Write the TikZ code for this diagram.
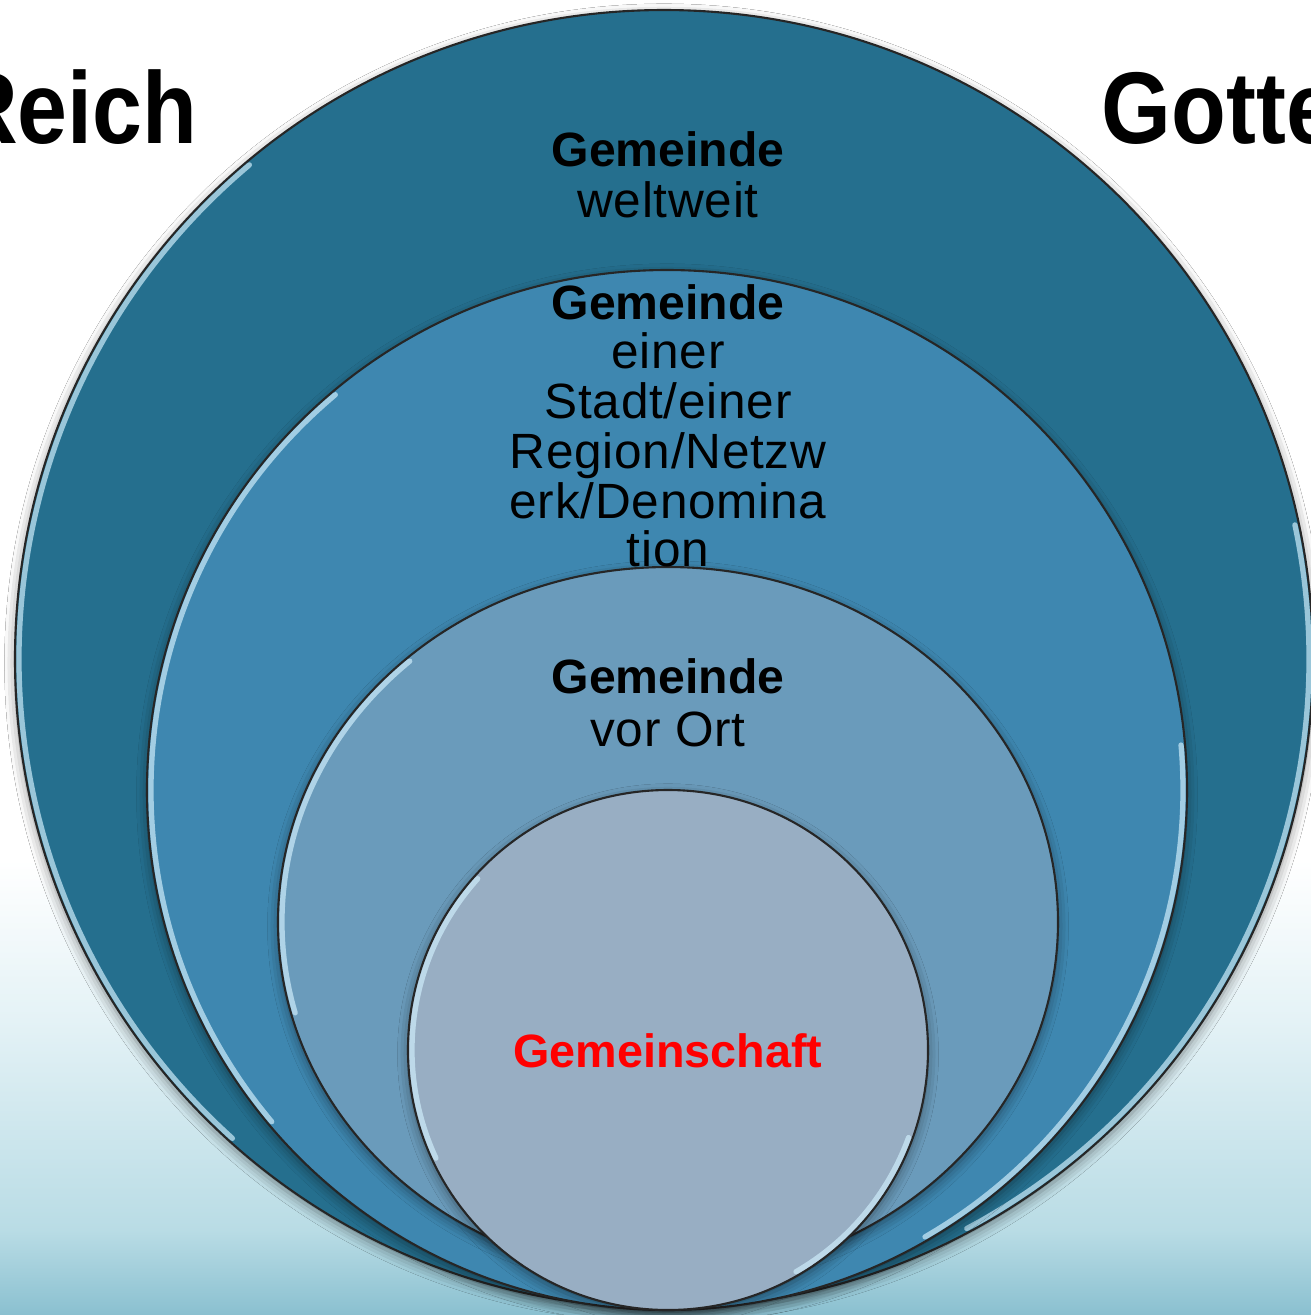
\documentclass[tikz,border=0pt]{standalone}
\usepackage{fontspec}
\setmainfont{Liberation Sans}
\newfontfamily\regfont[LetterSpace=1.5]{Liberation Sans}
\newfontfamily\bigfont[FakeStretch=0.88]{Liberation Sans}
\usetikzlibrary{shapes.geometric,shadows.blur}
\definecolor{bgmid}{RGB}{228,242,246}
\definecolor{bglow}{RGB}{185,220,229}
\definecolor{bgbot}{RGB}{138,192,208}
\definecolor{cA}{RGB}{37,111,142}
\definecolor{cB}{RGB}{62,135,176}
\definecolor{cC}{RGB}{106,155,187}
\definecolor{cD}{RGB}{152,174,195}
\definecolor{hl}{RGB}{205,236,250}
\tikzset{
  disc/.style={circle, inner sep=0pt, outer sep=0pt, draw=black!85, line width=0.6pt,
    blur shadow={shadow xshift=0pt, shadow yshift=-1.2pt, shadow blur radius=3pt, shadow opacity=45}},
  hlline/.style={draw=hl, line width=1.5pt, opacity=0.7, line cap=round},
  boldtxt/.style={inner sep=0pt, anchor=base, font=\fontsize{13.7}{14}\selectfont\bfseries},
  regtxt/.style={inner sep=0pt, anchor=base, font=\regfont\fontsize{14.1}{14}\selectfont},
  bigtxt/.style={inner sep=0pt, font=\bigfont\fontsize{29}{30}\selectfont\bfseries}
}
\begin{document}
\begin{tikzpicture}
\useasboundingbox (0,0) rectangle (13.11,-13.15);
\clip (0,0) rectangle (13.11,-13.15);
% background
\fill[white] (0,0) rectangle (13.11,-8.6);
\shade[top color=white, bottom color=bgmid] (0,-8.6) rectangle (13.11,-10.2);
\shade[top color=bgmid, bottom color=bglow] (0,-10.2) rectangle (13.11,-12.3);
\shade[top color=bglow, bottom color=bgbot] (0,-12.3) rectangle (13.11,-13.15);

% circles
\node[disc, fill=cA, minimum size=12.98cm] (c1) at (6.64,-6.59) {};
\draw[hlline] (c1.center) ++(130:6.45) arc[start angle=130, end angle=228, radius=6.45];
\draw[hlline] (c1.center) ++(-62:6.45) arc[start angle=-62, end angle=12, radius=6.45];

\node[disc, fill=cB, minimum size=10.40cm] (c2) at (6.67,-7.90) {};
\draw[hlline] (c2.center) ++(130:5.16) arc[start angle=130, end angle=220, radius=5.16];
\draw[hlline] (c2.center) ++(-60:5.16) arc[start angle=-60, end angle=5, radius=5.16];

\node[disc, ellipse, fill=cC, minimum width=7.80cm, minimum height=7.10cm] (c3) at (6.68,-9.22) {};
\draw[hlline] (c3.center) ++(132:3.86 and 3.51) arc[start angle=132, end angle=195, x radius=3.86, y radius=3.51];

\node[disc, fill=cD, minimum size=5.20cm] (c4) at (6.68,-10.50) {};
\draw[hlline] (c4.center) ++(138:2.56) arc[start angle=138, end angle=205, radius=2.56];
\draw[hlline] (c4.center) ++(-60:2.56) arc[start angle=-60, end angle=-20, radius=2.56];

% side titles
\node[bigtxt, anchor=base east] (reich) at (1.98,-1.43) {Reich};
\node[bigtxt, anchor=base west] (gottes) at (11.01,-1.43) {Gotte};

% texts of outer circle
\node[boldtxt] (t1a) at (6.68,-1.66) {Gemeinde};
\node[regtxt]  (t1b) at (6.68,-2.17) {weltweit};
% second circle
\node[boldtxt] (t2a) at (6.68,-3.19) {Gemeinde};
\node[regtxt]  (t2b) at (6.68,-3.68) {einer};
\node[regtxt]  (t2c) at (6.68,-4.18) {Stadt/einer};
\node[regtxt]  (t2d) at (6.68,-4.68) {Region/Netzw};
\node[regtxt]  (t2e) at (6.68,-5.18) {erk/Denomina};
\node[regtxt]  (t2f) at (6.68,-5.66) {tion};
% third circle
\node[boldtxt] (t3a) at (6.68,-6.93) {Gemeinde};
\node[regtxt]  (t3b) at (6.68,-7.46) {vor Ort};
% inner circle
\node[boldtxt, text=red, font=\fontsize{13.3}{14}\selectfont\bfseries] (t4) at (6.68,-10.67) {Gemeinschaft};
\end{tikzpicture}
\end{document}
